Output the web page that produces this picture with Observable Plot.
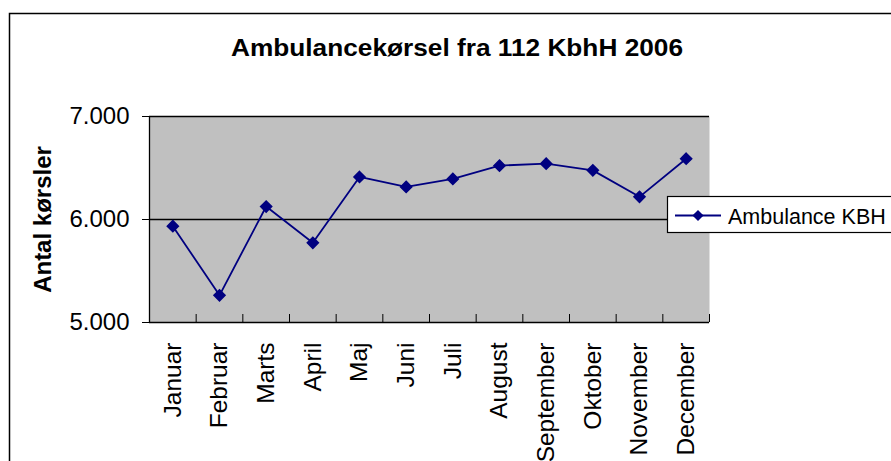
<!DOCTYPE html>
<html><head><meta charset="utf-8">
<script src="https://cdn.jsdelivr.net/npm/d3@7"></script>
<script src="https://cdn.jsdelivr.net/npm/@observablehq/plot@0.6"></script>
<style>
body{margin:0;background:#fff}
#chart{position:relative;width:891px;height:461px;overflow:hidden}
#chart svg{display:block}
</style>
</head><body><div id="chart"></div>
<script>
const months = ["Januar","Februar","Marts","April","Maj","Juni","Juli","August","September","Oktober","November","December"];
const values = [5935, 5264, 6126, 5774, 6413, 6316, 6394, 6523, 6542, 6477, 6220, 6590];
const yTicks = [5000, 6000, 7000];
const title = "Ambulancekørsel fra 112 KbhH 2006";
const yLabel = "Antal kørsler";
const seriesName = "Ambulance KBH";

const data = months.map((m, i) => ({i, month: m, value: values[i]}));
const boundaries = d3.range(months.length + 1).map(k => k - 0.5);
const fmt = d => d3.format(",")(d).replace(/,/g, ".");
const navy = "#000080";
const font = "'Liberation Sans', Arial, sans-serif";

const plot = Plot.plot({
  width: 891, height: 461,
  marginLeft: 149, marginRight: 182, marginTop: 116, marginBottom: 139,
  style: {fontFamily: font, color: "black", background: "white"},
  x: {type: "linear", domain: [-0.5, months.length - 0.5]},
  y: {domain: [5000, 7000]},
  marks: [
    Plot.frame({fill: "#c0c0c0", stroke: null}),
    Plot.ruleY(yTicks, {stroke: "black", strokeWidth: 1.3}),
    Plot.ruleX([-0.5], {stroke: "black", strokeWidth: 1.3}),
    Plot.axisY({ticks: yTicks, tickSize: 7, tickPadding: 13, tickFormat: fmt, fontSize: 24, label: null}),
    Plot.axisX({ticks: boundaries, tickSize: 8, dy: -8, tickFormat: () => "", label: null}),
    Plot.axisX({ticks: d3.range(months.length), tickSize: 0, tickPadding: 20, tickRotate: -90, tickFormat: i => months[i], fontSize: 24.5, label: null}),
    Plot.text([yLabel], {frameAnchor: "left", textAnchor: "middle", rotate: -90, dx: -106, fontWeight: "bold", fontSize: 24}),
    Plot.line(data, {x: "i", y: "value", stroke: navy, strokeWidth: 1.8}),
    Plot.dot(data, {x: "i", y: "value", symbol: "diamond2", r: 5, fill: navy, stroke: navy})
  ]
});

const svg = d3.select(plot);
// outer chart-area border
svg.insert("rect", ":first-child")
  .attr("x", 9.5).attr("y", 13.5).attr("width", 1000).attr("height", 1000)
  .attr("fill", "none").attr("stroke", "black").attr("stroke-width", 1.5);
// title
svg.append("text")
  .attr("x", 457).attr("y", 56)
  .attr("text-anchor", "middle").attr("font-weight", "bold").attr("font-size", 24)
  .attr("font-family", font).attr("fill", "black")
  .attr("textLength", 452).attr("lengthAdjust", "spacingAndGlyphs")
  .text(title);
// legend
const lg = svg.append("g");
lg.append("rect").attr("x", 667.5).attr("y", 196.5).attr("width", 300).attr("height", 36)
  .attr("fill", "white").attr("stroke", "black").attr("stroke-width", 1.2);
lg.append("line").attr("x1", 675).attr("x2", 721).attr("y1", 215.5).attr("y2", 215.5)
  .attr("stroke", navy).attr("stroke-width", 2);
lg.append("path").attr("transform", "translate(698,215.5)")
  .attr("d", d3.symbol(d3.symbolDiamond2, Math.PI * 25)()).attr("fill", navy);
lg.append("text").attr("x", 728).attr("y", 224).attr("font-size", 21.5)
  .attr("text-anchor", "start")
  .attr("font-family", font).attr("fill", "black").text(seriesName);

document.getElementById("chart").appendChild(plot);
</script>
</body></html>
